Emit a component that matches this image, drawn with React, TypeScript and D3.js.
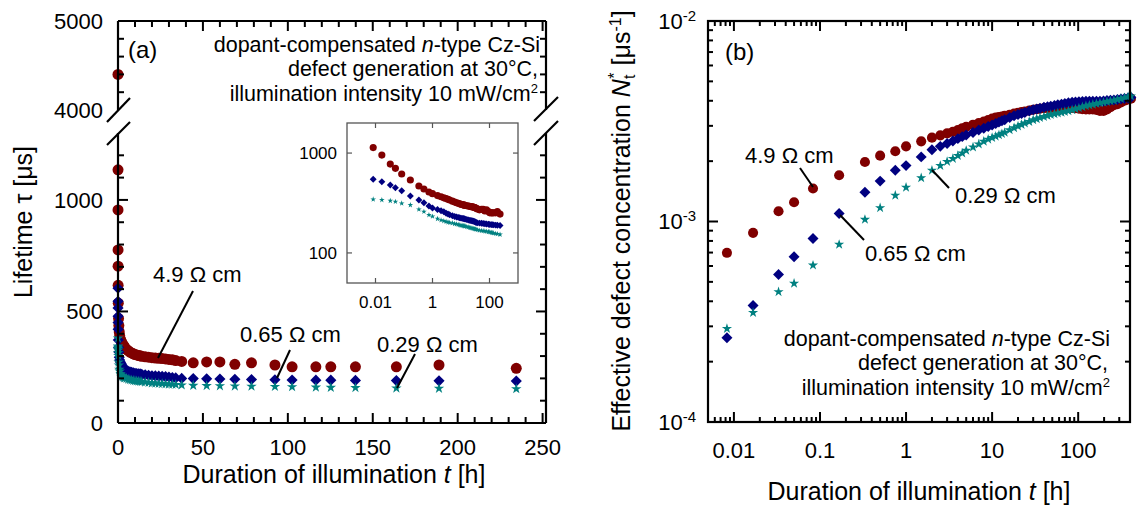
import React from "react";
import * as d3 from "d3";

const FONT = "'Liberation Sans', Arial, Helvetica, sans-serif";
const RED = "#800000";
const BLUE = "#000080";
const TEAL = "#008080";

// ---------- Panel (a): lifetime vs duration (linear) ----------
const timeA = [0, 0.0083, 0.0167, 0.033, 0.05, 0.083, 0.167, 0.333, 0.5, 0.75, 1, 1.5, 2, 2.5, 3, 3.5, 4, 5, 6, 7, 8, 9, 10, 11, 12, 13, 14, 16, 18, 20, 22, 24, 26, 28, 30, 32, 34, 37.5, 44.3, 52.2, 60, 68.8, 78.6, 92.4, 102.5, 116.5, 125.3, 139.8, 163.9, 189, 234.5];
const tauRed = [4400, 1135, 955, 776, 703, 617, 537, 468, 437, 408, 392, 375, 365, 356, 350, 344, 339, 330, 324, 318, 314, 310, 307, 305, 303, 301, 299, 297, 295, 293, 291, 290, 289, 287, 285, 283, 280, 276, 270, 274, 274, 263, 270, 260, 252, 252, 252, 252, 252, 260, 245];
const tauBlue = [604, 546, 516, 479, 450, 420, 372, 339, 318, 295, 282, 272, 265, 258, 250, 245, 241, 236, 232, 229, 227, 225, 223, 222, 221, 220, 218, 216, 214, 212, 211, 210, 209, 208, 206, 204, 202, 200, 199, 198, 197, 196, 195, 194, 193, 192, 192, 191, 190, 189, 188];
const tauTeal = [380, 344, 339, 333, 326, 314, 302, 273, 259, 240, 232, 220, 213, 209, 206, 203, 201, 199, 196, 194, 192, 190, 189, 188, 187, 186, 185, 183, 181, 179, 178, 177, 176, 175, 174, 173, 172, 170, 168, 167, 166, 165, 164, 163, 162, 160, 159, 158, 156, 155, 153];

const xTicksA = [0, 50, 100, 150, 200, 250];
const yTicksLow = [0, 500, 1000];
const yTicksHigh = [4000, 5000];
const insetXTicks = [0.01, 1, 100];
const insetYTicks = [100, 1000];

// ---------- Panel (b): effective defect concentration (log-log), values x1e-3 ----------
const timeB = [0.0083, 0.0167, 0.033, 0.05, 0.083, 0.167, 0.333, 0.5, 0.75, 1, 1.5, 2, 2.5, 3, 3.5, 4, 4.5, 5, 6, 7, 8, 9, 10, 11, 12, 13, 14, 16, 18, 20, 22, 24, 27, 30, 33, 36, 40, 44, 48, 53, 58, 64, 70, 77, 85, 93, 102, 112, 123, 135, 148, 163, 179, 197, 216, 237, 260, 286, 314, 345, 380, 410];
const ntRed = [0.698, 0.878, 1.125, 1.248, 1.46, 1.70, 1.98, 2.13, 2.24, 2.37, 2.51, 2.62, 2.69, 2.75, 2.80, 2.86, 2.92, 2.97, 3.04, 3.10, 3.15, 3.21, 3.26, 3.30, 3.32, 3.34, 3.37, 3.41, 3.45, 3.48, 3.51, 3.54, 3.58, 3.61, 3.63, 3.65, 3.67, 3.68, 3.68, 3.69, 3.69, 3.70, 3.70, 3.69, 3.68, 3.67, 3.65, 3.63, 3.62, 3.62, 3.62, 3.60, 3.56, 3.56, 3.62, 3.72, 3.80, 3.85, 3.92, 4.00, 4.06, 4.10];
const ntBlue = [0.263, 0.381, 0.544, 0.667, 0.822, 1.096, 1.40, 1.59, 1.80, 1.90, 2.10, 2.28, 2.37, 2.45, 2.52, 2.59, 2.65, 2.70, 2.78, 2.86, 2.92, 2.98, 3.03, 3.08, 3.13, 3.18, 3.22, 3.30, 3.37, 3.42, 3.46, 3.50, 3.56, 3.61, 3.64, 3.67, 3.71, 3.74, 3.76, 3.79, 3.82, 3.85, 3.88, 3.91, 3.93, 3.95, 3.96, 3.97, 3.98, 3.98, 3.98, 3.98, 3.98, 3.99, 4.01, 4.03, 4.04, 4.06, 4.08, 4.11, 4.13, 4.15];
const ntTeal = [0.292, 0.351, 0.446, 0.491, 0.605, 0.768, 1.023, 1.17, 1.35, 1.48, 1.65, 1.80, 1.90, 1.99, 2.06, 2.13, 2.19, 2.26, 2.35, 2.43, 2.51, 2.57, 2.62, 2.66, 2.70, 2.74, 2.78, 2.86, 2.93, 2.99, 3.04, 3.09, 3.15, 3.21, 3.25, 3.29, 3.33, 3.37, 3.41, 3.44, 3.47, 3.50, 3.53, 3.56, 3.60, 3.64, 3.68, 3.73, 3.77, 3.80, 3.84, 3.87, 3.90, 3.93, 3.96, 3.99, 4.02, 4.06, 4.10, 4.14, 4.18, 4.22];

const xTicksB = [0.01, 0.1, 1, 10, 100];
const xTickLabelsB = ["0.01", "0.1", "1", "10", "100"];
const yTicksB = [1e-4, 1e-3, 1e-2];
const yTickExpB = ["-4", "-3", "-2"];

const resistivities = ["4.9", "0.65", "0.29"];

// ---------- scales ----------
const xA = d3.scaleLinear().domain([0, 252]).range([118, 546]);
const yLow = d3.scaleLinear().domain([0, 1300]).range([423, 133]);
const yHigh = d3.scaleLinear().domain([4000, 5000]).range([110, 21]);
const yA = (v: number) => (v >= 4000 ? yHigh(v) : yLow(v));

const xI = d3.scaleLog().domain([0.001, 1000]).range([347, 518]);
const yI = d3.scaleLog().domain([50, 2000]).range([283, 123]);

const xB = d3.scaleLog().domain([0.005, 400]).range([708, 1130]);
const yB = d3.scaleLog().domain([1e-4, 1e-2]).range([422, 21]);

type Kind = "circle" | "diamond" | "star";
function markerPath(kind: Kind, size: number): string {
  if (kind === "circle") return d3.symbol().type(d3.symbolCircle).size(size)() as string;
  if (kind === "diamond") return d3.symbol().type(d3.symbolSquare).size(size)() as string;
  return d3.symbol().type(d3.symbolStar).size(size)() as string;
}

const series = [
  { kind: "circle" as Kind, color: RED, tau: tauRed, nt: ntRed, sA: 95, sB: 80, sI: 40 },
  { kind: "diamond" as Kind, color: BLUE, tau: tauBlue, nt: ntBlue, sA: 62, sB: 60, sI: 24 },
  { kind: "star" as Kind, color: TEAL, tau: tauTeal, nt: ntTeal, sA: 34, sB: 32, sI: 10 },
];

function Mark({ kind, x, y, size, color }: { kind: Kind; x: number; y: number; size: number; color: string }) {
  const rot = kind === "diamond" ? " rotate(45)" : "";
  return <path d={markerPath(kind, size)} transform={`translate(${x},${y})${rot}`} fill={color} />;
}

export default function App() {
  const tickW = 2;
  const aMinorX = d3.range(0, 251, 10);
  const aLowY = d3.range(0, 1201, 100);
  const aHighY = d3.range(4200, 4801, 200);
  const bXTicks = xB.ticks();
  const bYTicks = yB.ticks();
  const isDecade = (v: number) => Math.abs(Math.log10(v) - Math.round(Math.log10(v))) < 1e-6;
  const annFS = 21.5;

  return (
    <svg width={1137} height={514} style={{ position: "absolute", left: 0, top: 0, background: "#fff" }} fontFamily={FONT}>
      {/* ================= Panel (a) ================= */}
      <g>
        {series.map((s, si) => (
          <g key={"a" + si}>
            {timeA.map((t, i) => (
              <Mark key={i} kind={s.kind} x={xA(t)} y={yA(s.tau[i])} size={s.sA} color={s.color} />
            ))}
          </g>
        ))}
        <g stroke="#000" strokeWidth={2.2} fill="none">
          <line x1={118} x2={546} y1={423} y2={423} />
          <line x1={118} x2={546} y1={21} y2={21} />
          <line x1={118} x2={118} y1={21} y2={yHigh(4000)} />
          <line x1={118} x2={118} y1={yLow(1300)} y2={423} />
          <line x1={546} x2={546} y1={21} y2={yHigh(4000)} />
          <line x1={546} x2={546} y1={yLow(1300)} y2={423} />
          <line x1={107} y1={122} x2={130} y2={98} />
          <line x1={107} y1={145} x2={130} y2={122} />
          <line x1={534} y1={121} x2={558} y2={97} />
          <line x1={534} y1={145} x2={558} y2={121} />
        </g>
        <g stroke="#000" strokeWidth={tickW}>
          {aMinorX.map((v) => {
            const L = v % 50 === 0 ? 10 : 6;
            return (
              <g key={"ax" + v}>
                <line x1={xA(v)} x2={xA(v)} y1={423} y2={423 - L} />
                <line x1={xA(v)} x2={xA(v)} y1={21} y2={21 + L} />
              </g>
            );
          })}
          {aLowY.map((v) => {
            const L = v % 500 === 0 ? 10 : 6;
            return (
              <g key={"ay" + v}>
                <line x1={118} x2={118 + L} y1={yLow(v)} y2={yLow(v)} />
                <line x1={546} x2={546 - L} y1={yLow(v)} y2={yLow(v)} />
              </g>
            );
          })}
          {aHighY.map((v) => (
            <g key={"ah" + v}>
              <line x1={118} x2={124} y1={yHigh(v)} y2={yHigh(v)} />
              <line x1={546} x2={540} y1={yHigh(v)} y2={yHigh(v)} />
            </g>
          ))}
        </g>
        <g fontSize={22} fill="#000">
          {xTicksA.map((v) => (
            <text key={"xl" + v} x={xA(v)} y={455} textAnchor="middle">{v}</text>
          ))}
          {yTicksLow.map((v) => (
            <text key={"yl" + v} x={103} y={yLow(v)} dy="0.36em" textAnchor="end">{v}</text>
          ))}
          {yTicksHigh.map((v) => (
            <text key={"yh" + v} x={103} y={yHigh(v)} dy="0.36em" textAnchor="end">{v}</text>
          ))}
        </g>
        <text x={334} y={483} textAnchor="middle" fontSize={25}>
          Duration of illumination <tspan fontStyle="italic">t</tspan> [h]
        </text>
        <text transform="translate(32,222) rotate(-90)" textAnchor="middle" fontSize={25}>
          Lifetime τ [μs]
        </text>
        <text x={128} y={58} fontSize={24}>(a)</text>
        <g fontSize={annFS} textAnchor="end">
          <text x={540} y={52}>dopant-compensated <tspan fontStyle="italic">n</tspan>-type Cz-Si</text>
          <text x={538} y={76}>defect generation at 30°C,</text>
          <text x={538} y={100.5}>illumination intensity 10 mW/cm<tspan fontSize={13} dy={-8}>2</tspan></text>
        </g>
        <g fontSize={22}>
          <text x={153} y={282}>{resistivities[0]} Ω cm</text>
          <text x={240} y={342}>{resistivities[1]} Ω cm</text>
          <text x={377} y={352}>{resistivities[2]} Ω cm</text>
        </g>
        <g stroke="#000" strokeWidth={2}>
          <line x1={193} y1={291} x2={158} y2={358} />
          <line x1={290} y1={350} x2={277} y2={378} />
          <line x1={415} y1={354} x2={397} y2={388} />
        </g>

        {/* ---------- inset ---------- */}
        <rect x={347} y={123} width={171} height={160} fill="#fff" stroke="#555" strokeWidth={1.3} />
        {series.map((s, si) => (
          <g key={"i" + si}>
            {timeA.map((t, i) =>
              t > 0 ? <Mark key={i} kind={s.kind} x={xI(t)} y={yI(s.tau[i])} size={s.sI} color={s.color} /> : null
            )}
          </g>
        ))}
        <g stroke="#555" strokeWidth={1.2}>
          {insetXTicks.map((v) => (
            <g key={"ixt" + v}>
              <line x1={xI(v)} x2={xI(v)} y1={283} y2={278} />
              <line x1={xI(v)} x2={xI(v)} y1={123} y2={128} />
            </g>
          ))}
          {insetYTicks.map((v) => (
            <g key={"iyt" + v}>
              <line x1={347} x2={352} y1={yI(v)} y2={yI(v)} />
              <line x1={518} x2={513} y1={yI(v)} y2={yI(v)} />
            </g>
          ))}
        </g>
        <g fontSize={17} fill="#000">
          {insetXTicks.map((v) => (
            <text key={"ixl" + v} x={xI(v)} y={308} textAnchor="middle">{v}</text>
          ))}
          {insetYTicks.map((v) => (
            <text key={"iyl" + v} x={337} y={yI(v)} dy="0.36em" textAnchor="end">{v}</text>
          ))}
        </g>
      </g>

      {/* ================= Panel (b) ================= */}
      <g>
        {series.map((s, si) => (
          <g key={"b" + si}>
            {timeB.map((t, i) => (
              <Mark key={i} kind={s.kind} x={xB(t)} y={yB(s.nt[i] * 1e-3)} size={s.sB} color={s.color} />
            ))}
          </g>
        ))}
        <rect x={708} y={21} width={422} height={401} fill="none" stroke="#000" strokeWidth={2.2} />
        <g stroke="#000" strokeWidth={tickW}>
          {bXTicks.map((v, i) => {
            const L = isDecade(v) ? 10 : 5;
            return (
              <g key={"bx" + i}>
                <line x1={xB(v)} x2={xB(v)} y1={422} y2={422 - L} />
                <line x1={xB(v)} x2={xB(v)} y1={21} y2={21 + L} />
              </g>
            );
          })}
          {bYTicks.map((v, i) => {
            const L = isDecade(v) ? 10 : 5;
            return (
              <g key={"by" + i}>
                <line x1={708} x2={708 + L} y1={yB(v)} y2={yB(v)} />
                <line x1={1130} x2={1130 - L} y1={yB(v)} y2={yB(v)} />
              </g>
            );
          })}
        </g>
        <g fontSize={22} fill="#000">
          {xTicksB.map((v, i) => (
            <text key={"bxl" + i} x={xB(v)} y={458} textAnchor="middle">{xTickLabelsB[i]}</text>
          ))}
          {yTicksB.map((v, i) => (
            <text key={"byl" + i} x={696} y={yB(v)} dy="0.36em" textAnchor="end">
              10<tspan fontSize={15} dy={-8}>{yTickExpB[i]}</tspan>
            </text>
          ))}
        </g>
        <text x={919} y={500} textAnchor="middle" fontSize={25}>
          Duration of illumination <tspan fontStyle="italic">t</tspan> [h]
        </text>
        <text transform="translate(630,221) rotate(-90)" textAnchor="middle" fontSize={25}>
          Effective defect concentration <tspan fontStyle="italic">N</tspan>
          <tspan fontSize={16} dy={5}>t</tspan>
          <tspan fontSize={16} dy={-15} dx={-4}>*</tspan>
          <tspan dy={10}> [μs</tspan>
          <tspan fontSize={16} dy={-9}>-1</tspan>
          <tspan dy={9}>]</tspan>
        </text>
        <text x={725} y={60} fontSize={24}>(b)</text>
        <g fontSize={annFS} textAnchor="end">
          <text x={1110} y={346}>dopant-compensated <tspan fontStyle="italic">n</tspan>-type Cz-Si</text>
          <text x={1108} y={370}>defect generation at 30°C,</text>
          <text x={1110} y={394.5}>illumination intensity 10 mW/cm<tspan fontSize={13} dy={-8}>2</tspan></text>
        </g>
        <g fontSize={22}>
          <text x={745} y={163}>{resistivities[0]} Ω cm</text>
          <text x={865} y={261}>{resistivities[1]} Ω cm</text>
          <text x={955} y={203}>{resistivities[2]} Ω cm</text>
        </g>
        <g stroke="#000" strokeWidth={2}>
          <line x1={800} y1={168} x2={813} y2={187} />
          <line x1={840} y1={215} x2={864} y2={240} />
          <line x1={932} y1={170} x2={949} y2={188} />
        </g>
      </g>
    </svg>
  );
}
